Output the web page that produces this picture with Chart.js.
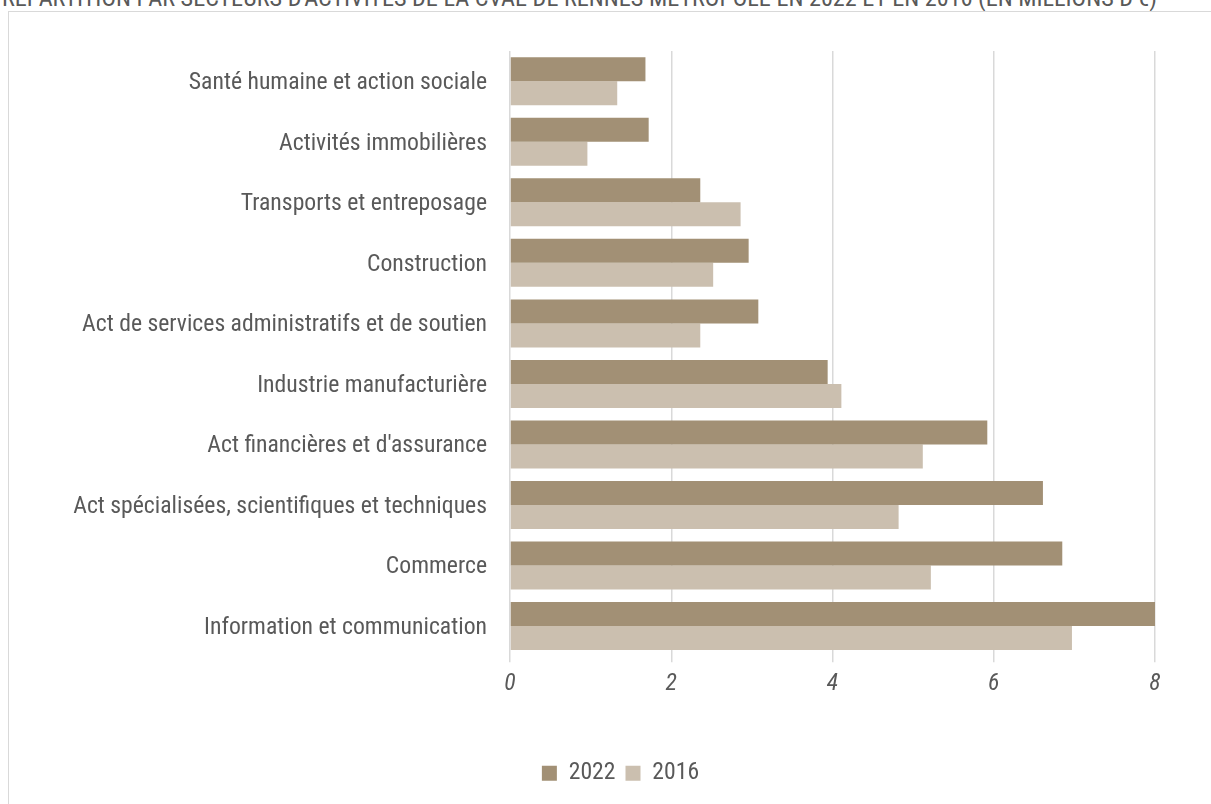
<!DOCTYPE html>
<html lang="fr">
<head>
<meta charset="utf-8">
<script src="https://cdn.jsdelivr.net/npm/chart.js@4/dist/chart.umd.min.js"></script>
<style>
  html, body { margin: 0; padding: 0; background: #fff; overflow: hidden; }
  #titre { position: absolute; left: 2px; top: -14px; font: 24.2px 'Roboto Condensed', Roboto, sans-serif; line-height: 24px;
           color: #595959; white-space: nowrap; text-transform: uppercase; }
  #cadre { position: absolute; left: 8px; top: 11px; width: 1260px; height: 840px; border: 1.5px solid #d9d9d9; }
  #zone { position: absolute; left: 0; top: 0; width: 1211px; height: 804px; }
</style>
</head>
<body>
<div id="titre">Répartition par secteurs d'activités de la CVAE de Rennes Métropole en 2022 et en 2016 (en millions d'€)</div>
<div id="cadre"></div>
<div id="zone"><canvas id="cvae"></canvas></div>
<script>
// CVAE par secteur, en millions d'euros
var secteurs = [
    'Santé humaine et action sociale',
    'Activités immobilières',
    'Transports et entreposage',
    'Construction',
    'Act de services administratifs et de soutien',
    'Industrie manufacturière',
    "Act financières et d'assurance",
    'Act spécialisées, scientifiques et techniques',
    'Commerce',
    'Information et communication'
];
var cvae2022 = [1.68, 1.72, 2.36, 2.96, 3.08, 3.94, 5.92, 6.61, 6.85, 8.0];
var cvae2016 = [1.33, 0.96, 2.86, 2.52, 2.36, 4.11, 5.12, 4.82, 5.22, 6.97];
var graduations = [0, 2, 4, 6, 8];

var police = "'Roboto Condensed', Roboto, sans-serif";
var gris = '#595959';

// legend sits a bit right of the page centre, under the bars
var decaleLegende = {
    id: 'decaleLegende',
    afterLayout: function (chart) {
        chart.legend.left += 23;
        chart.legend.right += 23;
    }
};

function renderChart() {
    var ctx = document.getElementById('cvae').getContext('2d');
    new Chart(ctx, {
        type: 'bar',
        data: {
            labels: secteurs,
            datasets: [
                { label: '2022', data: cvae2022, backgroundColor: '#a29075' },
                { label: '2016', data: cvae2016, backgroundColor: '#cbbfaf' }
            ]
        },
        options: {
            indexAxis: 'y',
            responsive: false,
            animation: false,
            devicePixelRatio: 1,
            categoryPercentage: 0.793,
            barPercentage: 1,
            layout: { padding: { left: 40, right: 56, top: 51, bottom: 9 } },
            scales: {
                y: {
                    grid: { display: false, drawTicks: false },
                    border: { display: false },
                    ticks: { color: gris, padding: 23, labelOffset: 2, font: { family: police, size: 23.7 } },
                    afterFit: function (s) { s.width = 470; }
                },
                x: {
                    min: 0,
                    max: 8,
                    grid: { color: '#d9d9d9', lineWidth: 1.5, tickLength: 6 },
                    border: { display: false },
                    ticks: { color: gris, padding: 8, font: { family: police, size: 23.7, style: 'italic' } },
                    afterBuildTicks: function (s) { s.ticks = graduations.map(function (v) { return { value: v }; }); },
                    afterFit: function (s) { s.height = 95; }
                }
            },
            plugins: {
                tooltip: { enabled: false },
                legend: {
                    position: 'bottom',
                    labels: { color: gris, boxWidth: 15, boxHeight: 15, padding: 10, font: { family: police, size: 23.7 } }
                }
            }
        },
        plugins: [decaleLegende]
    });
}

var cv = document.getElementById('cvae');
cv.width = 1211;
cv.height = 804;
renderChart();
</script>
</body>
</html>
